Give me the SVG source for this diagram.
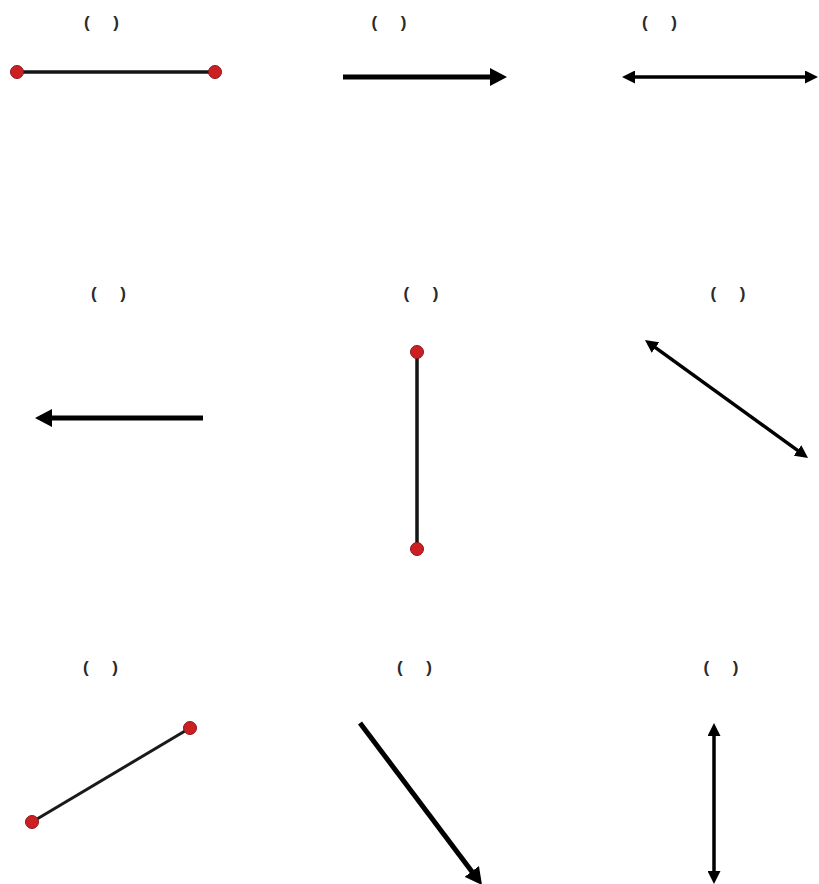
<svg xmlns="http://www.w3.org/2000/svg" width="819" height="884" viewBox="0 0 819 884">
<style>
.lbl{font-family:"Liberation Sans",Arial,sans-serif;font-size:17px;font-weight:bold;fill:#2a2a2a;text-anchor:middle}
.seg{stroke:#151515;stroke-width:3.5;fill:none}
.thin{stroke:#1a1a1a;stroke-width:3;fill:none}
.big{stroke:#000;stroke-width:5;fill:none;marker-end:url(#hb)}
.dbl{stroke:#000;stroke-width:3.5;fill:none;marker-start:url(#hs);marker-end:url(#hs)}
.dot{fill:#cc1f24;stroke:#8e1618;stroke-width:1}
</style>
<defs>
<marker id="hb" markerUnits="userSpaceOnUse" viewBox="0 0 17 18" markerWidth="17" markerHeight="18" refX="12" refY="9" orient="auto-start-reverse"><path d="M0,0 L17,9 L0,18 z" fill="#000"/></marker>
<marker id="hs" markerUnits="userSpaceOnUse" viewBox="0 0 13 13" markerWidth="13" markerHeight="13" refX="9" refY="6.5" orient="auto-start-reverse"><path d="M0,0 L13,6.5 L0,13 z" fill="#000"/></marker>
</defs>
<rect width="819" height="884" fill="#fff"/>
<g id="labels">
<text class="lbl" x="101.5" y="28">(&#160;&#160;&#160;&#160;&#160;)</text>
<text class="lbl" x="389" y="28">(&#160;&#160;&#160;&#160;&#160;)</text>
<text class="lbl" x="659.5" y="28">(&#160;&#160;&#160;&#160;&#160;)</text>
<text class="lbl" x="108.5" y="299">(&#160;&#160;&#160;&#160;&#160;)</text>
<text class="lbl" x="421" y="299">(&#160;&#160;&#160;&#160;&#160;)</text>
<text class="lbl" x="728" y="299">(&#160;&#160;&#160;&#160;&#160;)</text>
<text class="lbl" x="100.5" y="673">(&#160;&#160;&#160;&#160;&#160;)</text>
<text class="lbl" x="414.5" y="673">(&#160;&#160;&#160;&#160;&#160;)</text>
<text class="lbl" x="721" y="673">(&#160;&#160;&#160;&#160;&#160;)</text>
</g>
<g id="connectors">
<line class="seg" x1="17" y1="72" x2="215" y2="72"/>
<line class="big" x1="343" y1="77" x2="502" y2="77"/>
<line class="dbl" x1="626" y1="77" x2="814" y2="77"/>
<line class="big" x1="203" y1="418" x2="40" y2="418"/>
<line class="seg" x1="417" y1="352" x2="417" y2="549"/>
<line class="dbl" x1="648.2" y1="342.3" x2="804.8" y2="455.7"/>
<line class="thin" x1="32" y1="822" x2="190" y2="728"/>
<line class="big" x1="360" y1="723" x2="479" y2="881"/>
<line class="dbl" x1="714" y1="727" x2="714" y2="880"/>
</g>
<g id="dots">
<circle class="dot" cx="17" cy="72" r="6.5"/>
<circle class="dot" cx="215" cy="72" r="6.5"/>
<circle class="dot" cx="417" cy="352" r="6.5"/>
<circle class="dot" cx="417" cy="549" r="6.5"/>
<circle class="dot" cx="32" cy="822" r="6.5"/>
<circle class="dot" cx="190" cy="728" r="6.5"/>
</g>
</svg>
